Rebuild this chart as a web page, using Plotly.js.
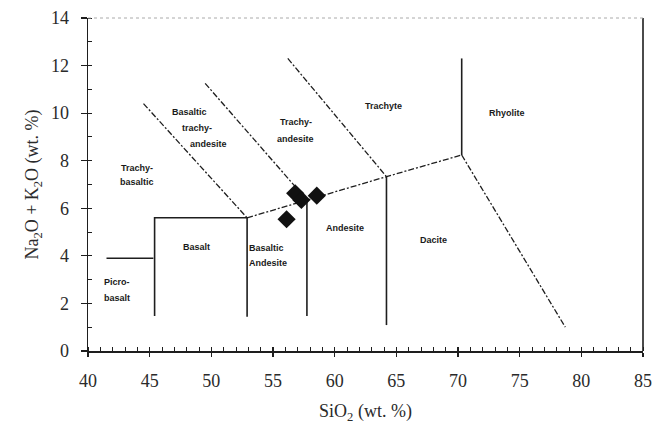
<!DOCTYPE html>
<html>
<head>
<meta charset="utf-8">
<script src="https://cdn.plot.ly/plotly-3.0.1.min.js"></script>
<style>html,body{margin:0;padding:0;background:#fff;}#chart{width:658px;height:436px;}</style>
</head>
<body>
<div id="chart"></div>
<script>
// ---- Data ----
// Field boundaries of the TAS diagram (SiO2, Na2O+K2O)
const picroX = [41.5, 45.3];            const picroY = [3.9, 3.9];
const basaltBoxX = [45.4, 45.4, 52.9, 52.9]; const basaltBoxY = [1.47, 5.6, 5.6, 1.44];
const andesiteLeftX = [57.75, 57.75];   const andesiteLeftY = [1.47, 6.35];
const daciteLeftX = [64.2, 64.2];       const daciteLeftY = [1.09, 7.33];
const rhyoliteLeftX = [70.3, 70.3];     const rhyoliteLeftY = [8.24, 12.3];
const alkaliX = [52.9, 57.75, 64.2, 70.3]; const alkaliY = [5.6, 6.35, 7.33, 8.24];
const rhyDacX = [70.3, 78.7];           const rhyDacY = [8.24, 1.0];
const diag1X = [44.5, 52.9];            const diag1Y = [10.4, 5.6];
const diag2X = [49.5, 57.75];           const diag2Y = [11.25, 6.35];
const diag3X = [56.2, 64.2];            const diag3Y = [12.3, 7.33];

// Samples
const sampleSiO2 = [56.8, 57.3, 58.55, 56.1];
const sampleAlk  = [6.63, 6.35, 6.53, 5.54];

// Field labels
const labelText = ["Trachy-", "basaltic", "Basaltic", "trachy-", "andesite", "Trachy-", "andesite",
  "Trachyte", "Rhyolite", "Basalt", "Basaltic", "Andesite", "Andesite", "Dacite", "Picro-", "basalt"];
const labelX = [43.95, 43.95, 48.2, 48.8, 49.8, 56.9, 56.8, 63.95, 73.95, 48.8, 54.5, 54.6, 60.85, 68.0, 42.35, 42.35];
const labelY = [7.7, 7.12, 10.03, 9.36, 8.7, 9.64, 8.9, 10.3, 10.0, 4.38, 4.32, 3.69, 5.16, 4.67, 2.91, 2.21];

// Axis ticks
const xTickVals = [40, 45, 50, 55, 60, 65, 70, 75, 80, 85];
const yTickVals = [0, 2, 4, 6, 8, 10, 12, 14];

// ---- Styles ----
const ink = '#1e1e1e';
const solid = {color: ink, width: 1.6};
const dashdot = {color: ink, width: 1.3, dash: '6px,2px,2px,2px'};

function seg(x, y, line) {
  return {x: x, y: y, type: 'scatter', mode: 'lines', line: line, hoverinfo: 'skip', showlegend: false};
}

const traces = [
  seg(picroX, picroY, solid),
  seg(basaltBoxX, basaltBoxY, solid),
  seg(andesiteLeftX, andesiteLeftY, solid),
  seg(daciteLeftX, daciteLeftY, solid),
  seg(rhyoliteLeftX, rhyoliteLeftY, solid),
  seg(alkaliX, alkaliY, dashdot),
  seg(rhyDacX, rhyDacY, dashdot),
  seg(diag1X, diag1Y, dashdot),
  seg(diag2X, diag2Y, dashdot),
  seg(diag3X, diag3Y, dashdot),
  {x: sampleSiO2, y: sampleAlk, type: 'scatter', mode: 'markers',
   marker: {symbol: 'diamond', size: 14, color: '#111'}, showlegend: false, hoverinfo: 'skip'},
  {x: [], y: [], xaxis: 'x2', type: 'scatter', showlegend: false}
];

const serif = 'Liberation Serif, Times New Roman, serif';
const annotations = labelText.map((t, i) => ({
  x: labelX[i], y: labelY[i], xref: 'x', yref: 'y', text: '<b>' + t + '</b>', showarrow: false,
  font: {family: 'Liberation Sans, Arial, sans-serif', size: 9, color: '#1a1a1a'}
}));

const layout = {
  width: 658, height: 436,
  margin: {l: 88, r: 15, t: 18, b: 85},
  paper_bgcolor: '#fff', plot_bgcolor: '#fff',
  showlegend: false, hovermode: false,
  font: {family: serif, color: '#2a2a2a'},
  xaxis: {
    range: [40, 85], tickmode: 'array', tickvals: xTickVals, ticktext: xTickVals.map(String),
    showgrid: false, zeroline: false, showline: true, linecolor: ink, linewidth: 1.5,
    ticks: 'outside', ticklen: 4, tickwidth: 1.2, tickcolor: ink, ticklabelstandoff: 9,
    minor: {dtick: 1, tick0: 40, ticks: 'inside', ticklen: 4, tickwidth: 1, tickcolor: ink, showgrid: false},
    tickfont: {family: serif, size: 18, color: '#2a2a2a'},
    title: {text: 'SiO<sub>2</sub> (wt. %)', font: {family: serif, size: 18, color: '#2a2a2a'}, standoff: 14}
  },
  xaxis2: {
    range: [40, 85], overlaying: 'x', anchor: 'y', side: 'bottom', tickmode: 'linear', tick0: 40, dtick: 5,
    ticks: 'inside', ticklen: 4, tickwidth: 1.2, tickcolor: ink, showticklabels: false,
    showgrid: false, zeroline: false, showline: false
  },
  yaxis: {
    range: [0, 14], tickmode: 'array', tickvals: yTickVals, ticktext: yTickVals.map(String),
    showgrid: false, zeroline: false, showline: true, linecolor: ink, linewidth: 1.5,
    ticks: 'outside', ticklen: 6, tickwidth: 1.2, tickcolor: ink, ticklabelstandoff: 8,
    minor: {dtick: 1, tick0: 0, ticks: 'inside', ticklen: 4, tickwidth: 1, tickcolor: ink, showgrid: false},
    tickfont: {family: serif, size: 18, color: '#2a2a2a'},
    title: {text: 'Na<sub>2</sub>O + K<sub>2</sub>O (wt. %)', font: {family: serif, size: 18, color: '#2a2a2a'}, standoff: 7}
  },
  shapes: [
    {type: 'line', xref: 'paper', yref: 'paper', x0: 1, x1: 1, y0: 0, y1: 1, line: {color: ink, width: 1.6}},
    {type: 'line', xref: 'paper', yref: 'paper', x0: 0, x1: 1, y0: 1, y1: 1, line: {color: '#aaa', width: 1, dash: 'dot'}}
  ],
  annotations: annotations
};

Plotly.newPlot('chart', traces, layout, {displayModeBar: false, staticPlot: true});
</script>
</body>
</html>
